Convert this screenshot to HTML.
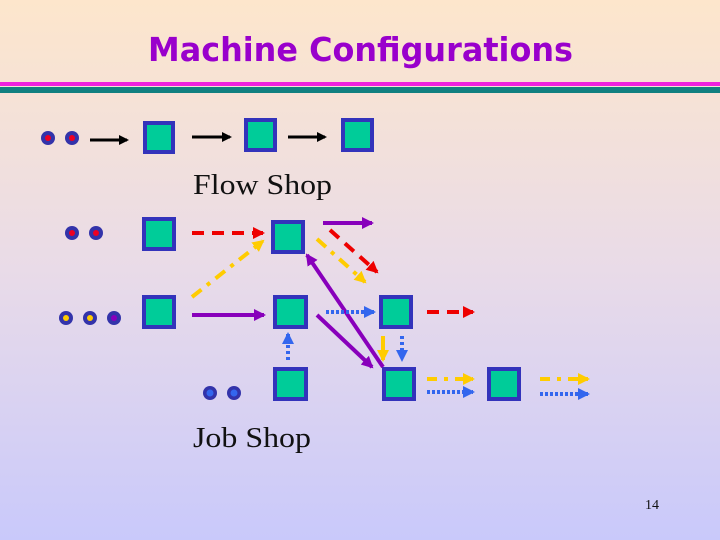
<!DOCTYPE html>
<html><head><meta charset="utf-8"><style>
html,body{margin:0;padding:0}
body{width:720px;height:540px;overflow:hidden;background:linear-gradient(#fde6cc,#e9dbe8 50%,#c9c9fb);}
</style></head><body>
<svg width="720" height="540" xmlns="http://www.w3.org/2000/svg" style="position:absolute;left:0;top:0">
<defs>
<marker id="mk" markerWidth="10" markerHeight="10" refX="8" refY="5" orient="auto" markerUnits="userSpaceOnUse"><path d="M0,0 L10,5 L0,10 z" fill="#000"/></marker>
<marker id="mr" markerWidth="12" markerHeight="12" refX="10" refY="6" orient="auto" markerUnits="userSpaceOnUse"><path d="M0,0 L12,6 L0,12 z" fill="#ee0000"/></marker>
<marker id="mp" markerWidth="12" markerHeight="12" refX="10" refY="6" orient="auto" markerUnits="userSpaceOnUse"><path d="M0,0 L12,6 L0,12 z" fill="#8800bb"/></marker>
<marker id="my" markerWidth="12" markerHeight="12" refX="10" refY="6" orient="auto" markerUnits="userSpaceOnUse"><path d="M0,0 L12,6 L0,12 z" fill="#ffcc00"/></marker>
<marker id="mb" markerWidth="12" markerHeight="12" refX="10" refY="6" orient="auto" markerUnits="userSpaceOnUse"><path d="M0,0 L12,6 L0,12 z" fill="#3366ee"/></marker>
</defs>
<text x="148" y="61" textLength="425" lengthAdjust="spacingAndGlyphs" font-family="DejaVu Sans, Liberation Sans, sans-serif" font-weight="bold" font-size="33" fill="#9900cc">Machine Configurations</text>
<rect x="0" y="82" width="720" height="4" fill="#ee22dd"/>
<rect x="0" y="87" width="720" height="6" fill="#118080"/>
<g fill="#00cc99" stroke="#3333bb" stroke-width="4">
<rect x="145" y="123" width="28" height="29"/>
<rect x="246" y="120" width="29" height="30"/>
<rect x="343" y="120" width="29" height="30"/>
<rect x="144" y="219" width="30" height="30"/>
<rect x="273" y="222" width="30" height="30"/>
<rect x="144" y="297" width="30" height="30"/>
<rect x="275" y="297" width="31" height="30"/>
<rect x="381" y="297" width="30" height="30"/>
<rect x="275" y="369" width="31" height="30"/>
<rect x="384" y="369" width="30" height="30"/>
<rect x="489" y="369" width="30" height="30"/>
</g>
<g fill="#3333aa">
<circle cx="48" cy="138" r="7"/><circle cx="72" cy="138" r="7"/>
<circle cx="72" cy="233" r="7"/><circle cx="96" cy="233" r="7"/>
<circle cx="66" cy="318" r="7"/><circle cx="90" cy="318" r="7"/><circle cx="114" cy="318" r="7"/>
<circle cx="210" cy="393" r="7"/><circle cx="234" cy="393" r="7"/>
</g>
<g fill="#ee0022"><circle cx="48" cy="138" r="3"/><circle cx="72" cy="138" r="3"/><circle cx="72" cy="233" r="3"/><circle cx="96" cy="233" r="3"/></g>
<g fill="#ffcc00"><circle cx="66" cy="318" r="3"/><circle cx="90" cy="318" r="3"/></g>
<circle cx="114" cy="318" r="3" fill="#8800bb"/>
<g fill="#3366ee"><circle cx="210" cy="393" r="3.5"/><circle cx="234" cy="393" r="3.5"/></g>
<g stroke="#000" stroke-width="3" marker-end="url(#mk)">
<line x1="90" y1="140" x2="127" y2="140"/>
<line x1="192" y1="137" x2="230" y2="137"/>
<line x1="288" y1="137" x2="325" y2="137"/>
</g>
<g fill="none" stroke-width="4">
<line x1="192" y1="233" x2="263" y2="233" stroke="#ee0000" stroke-dasharray="12,8" marker-end="url(#mr)"/>
<line x1="330" y1="230" x2="377" y2="272" stroke="#ee0000" stroke-dasharray="12,8" marker-end="url(#mr)"/>
<line x1="427" y1="312" x2="473" y2="312" stroke="#ee0000" stroke-dasharray="12,8" marker-end="url(#mr)"/>
<line x1="323" y1="223" x2="372" y2="223" stroke="#8800bb" marker-end="url(#mp)"/>
<line x1="192" y1="315" x2="264" y2="315" stroke="#8800bb" marker-end="url(#mp)"/>
<line x1="317" y1="315" x2="372" y2="367" stroke="#8800bb" marker-end="url(#mp)"/>
<line x1="383" y1="367" x2="307" y2="255" stroke="#8800bb" marker-end="url(#mp)"/>
<line x1="192" y1="297" x2="263" y2="241" stroke="#ffcc00" stroke-dasharray="12,7,4,7" marker-end="url(#my)"/>
<line x1="317" y1="239" x2="365" y2="282" stroke="#ffcc00" stroke-dasharray="12,7,4,7" marker-end="url(#my)"/>
<line x1="383" y1="336" x2="383" y2="360" stroke="#ffcc00" marker-end="url(#my)"/>
<line x1="427" y1="379" x2="473" y2="379" stroke="#ffcc00" stroke-dasharray="10,7,4,7" marker-end="url(#my)"/>
<line x1="540" y1="379" x2="588" y2="379" stroke="#ffcc00" stroke-dasharray="10,7,4,7" marker-end="url(#my)"/>
<line x1="326" y1="312" x2="374" y2="312" stroke="#3366ee" stroke-dasharray="3,2" marker-end="url(#mb)"/>
<line x1="288" y1="360" x2="288" y2="334" stroke="#3366ee" stroke-dasharray="3,3" marker-end="url(#mb)"/>
<line x1="402" y1="336" x2="402" y2="360" stroke="#3366ee" stroke-dasharray="3,3" marker-end="url(#mb)"/>
<line x1="427" y1="392" x2="473" y2="392" stroke="#3366ee" stroke-dasharray="3,2" marker-end="url(#mb)"/>
<line x1="540" y1="394" x2="588" y2="394" stroke="#3366ee" stroke-dasharray="3,2" marker-end="url(#mb)"/>
</g>
<text x="193" y="194" textLength="139" lengthAdjust="spacingAndGlyphs" font-family="Liberation Serif, serif" font-size="29" fill="#111">Flow Shop</text>
<text x="193" y="447" textLength="118" lengthAdjust="spacingAndGlyphs" font-family="Liberation Serif, serif" font-size="29" fill="#111">Job Shop</text>
<text x="645" y="509" font-family="Liberation Serif, serif" font-size="14" fill="#111">14</text>
</svg>
</body></html>
